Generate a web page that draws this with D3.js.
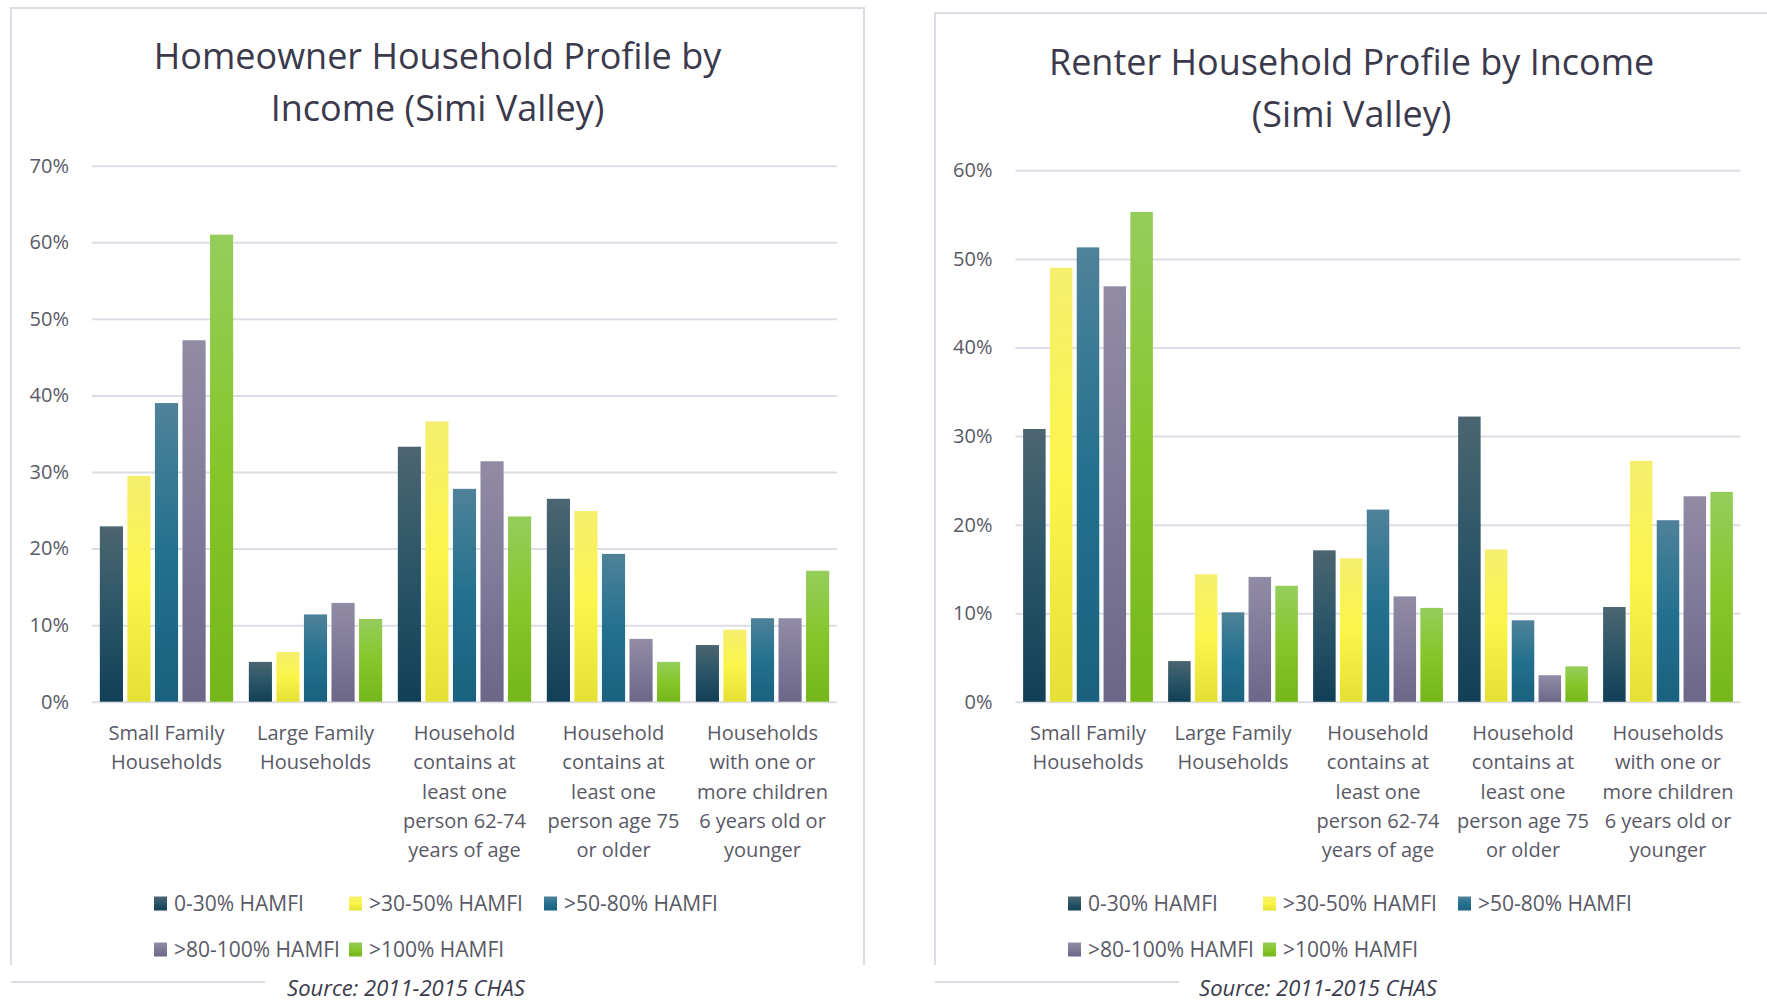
<!DOCTYPE html>
<html>
<head>
<meta charset="utf-8">
<script src="https://cdn.jsdelivr.net/npm/d3@7"></script>
<style>
  body { margin: 0; background: #fff; }
  text { font-family: 'Open Sans', 'Noto Sans', sans-serif; }
</style>
</head>
<body>
<div class="canvas"></div>
<script>
// categories (line breaks as Excel wrapped them)
const categories = [
  'Small Family\nHouseholds',
  'Large Family\nHouseholds',
  'Household\ncontains at\nleast one\nperson 62-74\nyears of age',
  'Household\ncontains at\nleast one\nperson age 75\nor older',
  'Households\nwith one or\nmore children\n6 years old or\nyounger'
]
const seriesNames = ['0-30% HAMFI', '>30-50% HAMFI', '>50-80% HAMFI', '>80-100% HAMFI', '>100% HAMFI']

// Homeowner values (% of households), one array per income band
const owner0to30 = [22.9, 5.2, 33.3, 26.5, 7.4]
const owner30to50 = [29.5, 6.5, 36.6, 24.9, 9.4]
const owner50to80 = [39.0, 11.4, 27.8, 19.3, 10.9]
const owner80to100 = [47.2, 12.9, 31.4, 8.2, 10.9]
const ownerOver100 = [61.0, 10.8, 24.2, 5.2, 17.1]

// Renter values
const renter0to30 = [30.8, 4.6, 17.1, 32.2, 10.7]
const renter30to50 = [49.0, 14.4, 16.2, 17.2, 27.2]
const renter50to80 = [51.3, 10.1, 21.7, 9.2, 20.5]
const renter80to100 = [46.9, 14.1, 11.9, 3.0, 23.2]
const renterOver100 = [55.3, 13.1, 10.6, 4.0, 23.7]

const ownerTicks = [0, 10, 20, 30, 40, 50, 60, 70]
const renterTicks = [0, 10, 20, 30, 40, 50, 60]

// gradient stops per series: top, middle, bottom
const seriesColours = [
  ['#4c6571', '#2a5567', '#113f55'],
  ['#f6ef6e', '#fbf54a', '#e5e033'],
  ['#4f8299', '#23718f', '#19617f'],
  ['#928ba5', '#7f7a99', '#6c6688'],
  ['#95cd5c', '#86c62a', '#75b61b']
]

const svg = d3.select('.canvas')
  .append('svg')
  .attr('width', 1767)
  .attr('height', 1003)

const defs = svg.append('defs')
seriesColours.forEach((c, i) => {
  const grad = defs.append('linearGradient')
    .attr('id', 'grad' + i)
    .attr('x1', 0).attr('y1', 0).attr('x2', 0).attr('y2', 1)
  grad.append('stop').attr('offset', '0%').attr('stop-color', c[0])
  grad.append('stop').attr('offset', '50%').attr('stop-color', c[1])
  grad.append('stop').attr('offset', '100%').attr('stop-color', c[2])
})

const borderColour = '#dcdce5'
const gridColour = '#dddde5'
const labelColour = '#595966'

function drawChart(opt) {
  const g = svg.append('g')

  // chart frame (bottom part hidden behind the source note)
  const b = opt.box
  g.append('path')
    .attr('d', `M${b.left},965 V${b.top} H${b.right} V965`)
    .attr('fill', 'none')
    .attr('stroke', borderColour)
    .attr('stroke-width', 2)
  g.append('line')
    .attr('x1', b.left).attr('x2', opt.bottomLineEnd)
    .attr('y1', 982).attr('y2', 982)
    .attr('stroke', borderColour)
    .attr('stroke-width', 2)

  // title
  const title = g.append('text')
    .attr('text-anchor', 'middle')
    .attr('fill', '#3b3a4c')
    .style('font-size', '36px')
  opt.title.forEach((line, i) => {
    title.append('tspan')
      .attr('x', opt.titleX)
      .attr('y', opt.titleY + i * 51.5)
      .text(line)
  })

  const y = d3.scaleLinear()
    .domain([0, d3.max(opt.ticks)])
    .range([opt.bottom, opt.top])

  const x0 = d3.scaleBand()
    .domain(categories)
    .range([opt.left, opt.right])
    .paddingInner(0.105)
    .paddingOuter(0.0525)

  const x1 = d3.scaleBand()
    .domain(d3.range(seriesNames.length))
    .range([0, x0.bandwidth()])
    .paddingInner(0.16)

  // gridlines + tick labels
  const yAxis = d3.axisLeft(y)
    .tickValues(opt.ticks)
    .tickFormat(d => d + '%')
    .tickSize(-(opt.right - opt.left))
    .tickPadding(23)
  const axisG = g.append('g')
    .attr('transform', `translate(${opt.left},0)`)
    .call(yAxis)
  axisG.select('.domain').remove()
  axisG.selectAll('.tick line')
    .attr('stroke', gridColour)
    .attr('stroke-width', 2)
  axisG.selectAll('.tick text')
    .attr('fill', labelColour)
    .style('font-size', '20px')
    .style('font-family', "'Open Sans', sans-serif")

  // bars
  const groups = g.append('g').selectAll('g')
    .data(categories)
    .enter()
    .append('g')
    .attr('transform', cat => `translate(${x0(cat)},0)`)

  groups.selectAll('rect')
    .data((cat, ci) => opt.series.map((s, si) => ({ si, value: s[ci] })))
    .enter()
    .append('rect')
    .attr('x', d => x1(d.si))
    .attr('width', x1.bandwidth())
    .attr('y', d => y(d.value))
    .attr('height', d => y(0) - y(d.value))
    .attr('fill', d => `url(#grad${d.si})`)

  // category labels
  const catLabels = g.append('g').selectAll('text')
    .data(categories)
    .enter()
    .append('text')
    .attr('text-anchor', 'middle')
    .attr('fill', labelColour)
    .style('font-size', '20px')
  catLabels.each(function (cat) {
    const t = d3.select(this)
    cat.split('\n').forEach((line, i) => {
      t.append('tspan')
        .attr('x', x0(cat) + x0.bandwidth() / 2)
        .attr('y', 740 + i * 29.3)
        .text(line)
    })
  })

  // legend
  const legend = g.append('g')
    .selectAll('g')
    .data(seriesNames)
    .enter()
    .append('g')
    .attr('transform', (d, i) => {
      const col = i % 3
      const row = Math.floor(i / 3)
      return `translate(${opt.legendX + col * 195}, ${903.5 + row * 46})`
    })
  legend.append('rect')
    .attr('x', 0).attr('y', -7)
    .attr('width', 13).attr('height', 14)
    .attr('fill', (d, i) => `url(#grad${i})`)
  legend.append('text')
    .attr('x', 20)
    .attr('y', 7.5)
    .attr('fill', labelColour)
    .style('font-size', '21px')
    .text(d => d)

  // source note
  g.append('text')
    .attr('x', opt.sourceX)
    .attr('y', 996)
    .attr('text-anchor', 'middle')
    .attr('fill', '#3b3a4c')
    .style('font-size', '22px')
    .style('font-style', 'italic')
    .text('Source: 2011-2015 CHAS')
}

drawChart({
  box: { left: 11, top: 8, right: 864 },
  bottomLineEnd: 265,
  title: ['Homeowner Household Profile by', 'Income (Simi Valley)'],
  titleX: 437.5,
  titleY: 69,
  ticks: ownerTicks,
  top: 165.7,
  bottom: 701.7,
  left: 92,
  right: 837,
  series: [owner0to30, owner30to50, owner50to80, owner80to100, ownerOver100],
  legendX: 154,
  sourceX: 406
})

drawChart({
  box: { left: 935, top: 13, right: 1775 },
  bottomLineEnd: 1179,
  title: ['Renter Household Profile by Income', '(Simi Valley)'],
  titleX: 1351.6,
  titleY: 75,
  ticks: renterTicks,
  top: 170.3,
  bottom: 701.8,
  left: 1015.5,
  right: 1740.5,
  series: [renter0to30, renter30to50, renter50to80, renter80to100, renterOver100],
  legendX: 1068,
  sourceX: 1318
})
</script>
</body>
</html>
